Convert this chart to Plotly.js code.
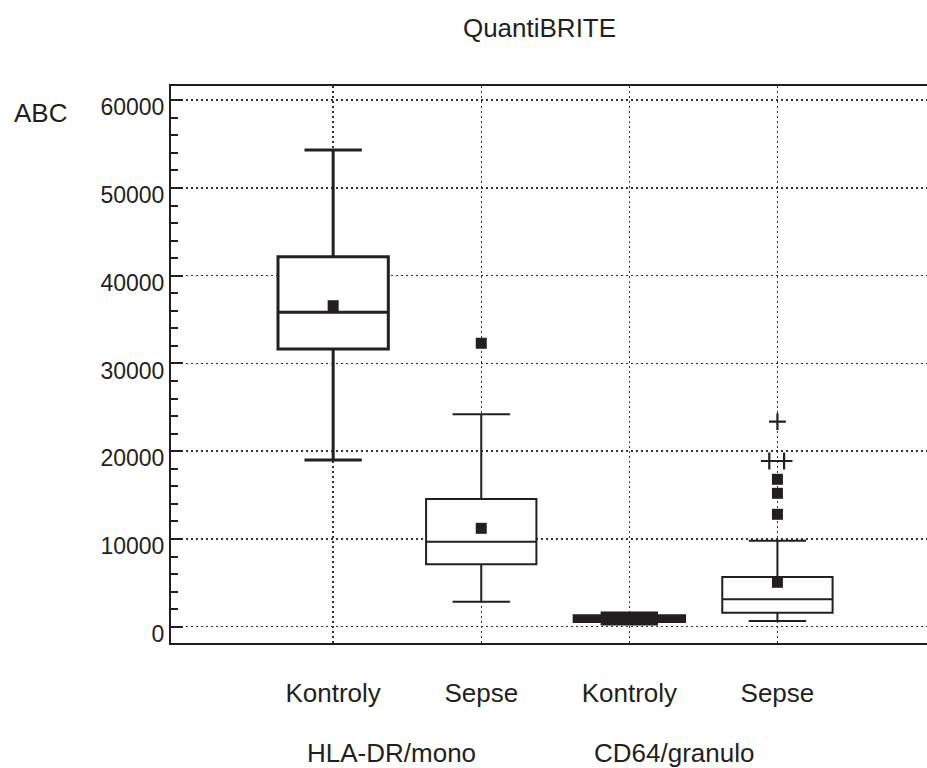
<!DOCTYPE html>
<html>
<head>
<meta charset="utf-8">
<script src="https://cdn.plot.ly/plotly-3.0.1.min.js"></script>
<style>html,body{margin:0;padding:0;background:#fff;}#chart{width:927px;height:768px;}</style>
</head>
<body>
<div id="chart"></div>
<script>
// ---- data ----
const categories = ["Kontroly", "Sepse", "Kontroly", "Sepse"];
const groups = ["HLA-DR/mono", "CD64/granulo"];
const q1 = [31650, 7110, 600, 1600];
const median = [35830, 9690, 930, 3120];
const q3 = [42150, 14550, 1260, 5660];
const lowerfence = [19000, 2850, 310, 650];
const upperfence = [54320, 24200, 1560, 9800];
const means = [36580, 11210, 880, 5060];
// outside values (squares) per category
const outliers = [[], [32300], [], [16800, 15200, 12810]];
// far outside values (plus signs) per category
const farOutliers = [[], [], [], [23360, 18880, 18880]];
const yTicks = [0, 10000, 20000, 30000, 40000, 50000, 60000];
const yTickText = ["0", "10000", "20000", "30000", "40000", "50000", "60000"];

// ---- style ----
const ink = "#231f20";
const plusOffsets = [0, -0.055, 0.045];
const fontFam = "Liberation Sans, Arial, sans-serif";
const gridDash = "2px,3px";

const pos = categories.map((c, i) => i + 1);
const traces = [];
categories.forEach((c, i) => {
  traces.push({
    type: "box",
    x: [pos[i]],
    q1: [q1[i]], median: [median[i]], q3: [q3[i]],
    lowerfence: [lowerfence[i]], upperfence: [upperfence[i]],
    width: 0.745,
    whiskerwidth: 0.52,
    fillcolor: "#ffffff",
    line: { color: ink, width: c === "Kontroly" ? 3 : 2 },
    boxpoints: false,
    hoverinfo: "skip",
    showlegend: false
  });
});
// means
traces.push({
  type: "scatter", mode: "markers",
  x: pos, y: means,
  marker: { symbol: "square", size: 11, color: ink },
  showlegend: false, hoverinfo: "skip"
});
// outside values
const ox = [], oy = [];
outliers.forEach((arr, i) => arr.forEach(v => { ox.push(pos[i]); oy.push(v); }));
traces.push({
  type: "scatter", mode: "markers", x: ox, y: oy,
  marker: { symbol: "square", size: 11, color: ink },
  showlegend: false, hoverinfo: "skip"
});
// far outside values
const fx = [], fy = [];
farOutliers.forEach((arr, i) => arr.forEach((v, k) => { fx.push(pos[i] + plusOffsets[k]); fy.push(v); }));
traces.push({
  type: "scatter", mode: "markers", x: fx, y: fy,
  marker: { symbol: "cross-thin-open", size: 12, color: ink, line: { color: ink, width: 2.2 } },
  showlegend: false, hoverinfo: "skip"
});

const axisFont = { size: 26, family: fontFam, color: ink };

const layout = {
  width: 927, height: 768,
  margin: { l: 171, r: 0, t: 86, b: 125 },
  paper_bgcolor: "#ffffff", plot_bgcolor: "#ffffff",
  font: { family: fontFam, color: ink },
  title: {
    text: "QuantiBRITE",
    font: axisFont,
    xref: "container", yref: "container",
    x: 539.5 / 927, y: 1 - 28 / 768, xanchor: "center", yanchor: "middle"
  },
  xaxis: {
    type: "linear",
    range: [-0.095, 5.01],
    tickvals: pos, ticktext: categories,
    ticks: "", ticklabelstandoff: 26,
    tickfont: axisFont,
    showgrid: true, gridcolor: "#333", gridwidth: 1.5, griddash: gridDash,
    zeroline: false,
    showline: true, linecolor: ink, linewidth: 2, mirror: true,
    fixedrange: true
  },
  yaxis: {
    range: [-1858, 61618],
    tickvals: yTicks, ticktext: yTickText,
    ticks: "inside", ticklen: 12, tickwidth: 2, tickcolor: ink,
    minor: { dtick: 2000, tick0: 0, ticks: "inside", ticklen: 7, tickwidth: 2, tickcolor: ink, showgrid: false },
    tickfont: { size: 23, family: fontFam, color: ink },
    ticklabelshift: 7,
    showgrid: true, gridcolor: "#333", gridwidth: 1.5, griddash: gridDash,
    zeroline: false,
    showline: true, linecolor: ink, linewidth: 2,
    fixedrange: true
  },
  annotations: [
    { text: "ABC", xref: "paper", yref: "paper",
      x: 0, xshift: -171 + 12, xanchor: "left",
      y: 1, yshift: -(113 - 86), yanchor: "middle",
      showarrow: false, font: axisFont },
    { text: groups[0], xref: "x", yref: "paper", x: 1.5, xshift: -16, y: 0, yshift: -110, yanchor: "middle",
      showarrow: false, font: axisFont },
    { text: groups[1], xref: "x", yref: "paper", x: 3.5, xshift: -29, y: 0, yshift: -110, yanchor: "middle",
      showarrow: false, font: axisFont }
  ]
};

Plotly.newPlot("chart", traces, layout, { staticPlot: true, displayModeBar: false });
</script>
</body>
</html>
